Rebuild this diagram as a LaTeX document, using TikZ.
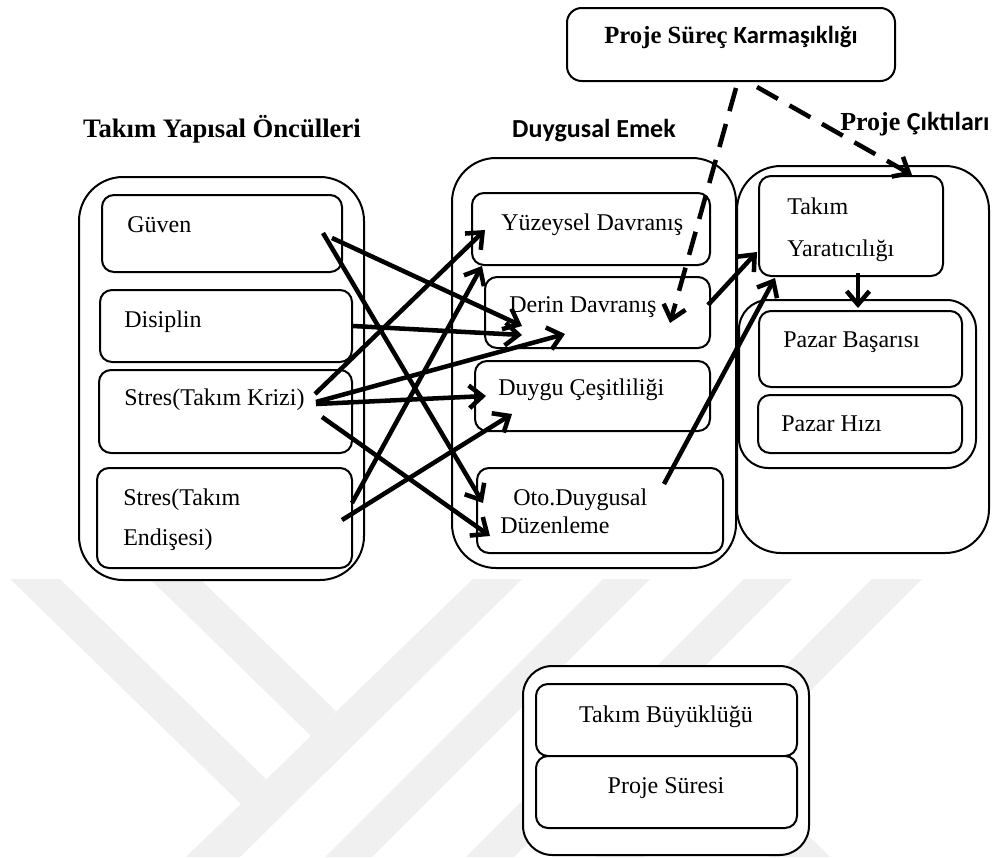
\documentclass[tikz,border=0pt]{standalone}
\usepackage{fontspec}
\setmainfont{Liberation Serif}
\newfontfamily\carlito{Carlito}
\usetikzlibrary{arrows.meta,fit}
\definecolor{wmgray}{RGB}{240,240,240}
\begin{document}
\begin{tikzpicture}[x=0.75pt,y=-0.75pt,
  box/.style={draw, line width=1.5pt, rounded corners=9pt, fill=white, inner sep=0pt},
  panel/.style={draw, line width=1.5pt, rounded corners=33pt, fill=white, inner sep=0pt},
  lbl/.style={inner sep=0pt, font=\fontsize{18}{21}\selectfont},
  ttl/.style={inner sep=0pt, font=\fontsize{20}{23}\selectfont\bfseries},
  link/.style={line width=3.4pt, -{Straight Barb[length=10pt,width=17pt]}},
  dlink/.style={link, dash pattern=on 18pt off 10pt},
]
\useasboundingbox (0,0) rectangle (992,857);

% background logo stripes
\fill[wmgray] (10,579) -- (60,579) -- (266,779) -- (241,804) -- cycle;
\fill[wmgray] (150,579) -- (200,579) -- (336,711) -- (311,736) -- cycle;
\fill[wmgray] (473,579) -- (522,579) -- (240,857) -- (186,857) -- cycle;
\fill[wmgray] (603,579) -- (650,579) -- (372,857) -- (325,857) -- cycle;
\fill[wmgray] (744,579) -- (792,579) -- (514,857) -- (466,857) -- cycle;
\fill[wmgray] (872,579) -- (922,579) -- (644,857) -- (596,857) -- cycle;
\fill[wmgray] (682,769) -- (712,739) -- (830,857) -- (770,857) -- cycle;

% group panels
\node[panel, fit={(79,177) (364,580)}] (onculler) {};
\node[panel, fit={(452,158) (736,568)}] (emek) {};
\node[panel, fit={(737,166) (989,553)}] (ciktilar) {};
\node[panel, rounded corners=22pt, fit={(739,300) (976,468)}] (pazar) {};
\node[panel, rounded corners=22pt, fit={(523,666) (809,855)}] (kontrol) {};

% boxes
\node[box, rounded corners=11pt, fit={(567,8) (895,81)}] (karmasiklik) {};
\node[box, fit={(102,195) (342,272)}] (guven) {};
\node[box, fit={(100,290) (352,362)}] (disiplin) {};
\node[box, fit={(99,370) (352,453)}] (kriz) {};
\node[box, fit={(97,468) (352,568)}] (endise) {};
\node[box, fit={(472,193) (710,265)}] (yuzeysel) {};
\node[box, fit={(485,277) (710,348)}] (derin) {};
\node[box, fit={(475,361) (710,431)}] (cesit) {};
\node[box, fit={(477,468) (723,553)}] (oto) {};
\node[box, fit={(759,176) (943,276)}] (yaratici) {};
\node[box, fit={(759,311) (962,387)}] (basari) {};
\node[box, fit={(758,395) (962,453)}] (hiz) {};
\node[box, fit={(536,684) (797,756)}] (buyukluk) {};
\node[box, fit={(536,756) (797,828)}] (sure) {};

% headings
\node[ttl, anchor=base] (hOnc) at (222,137) {Takım Yapısal Öncülleri};
\node[ttl, anchor=base, font=\fontsize{19.5}{23}\selectfont\bfseries\carlito] (hEmek) at (594,137) {Duygusal Emek};
\node[ttl, anchor=base west, font=\fontsize{19.5}{23}\selectfont\bfseries] (hCikti) at (840,130) {Proje {\carlito Çıktıları}};
\node[ttl, anchor=base, font=\fontsize{18.5}{22}\selectfont\bfseries] (tKarm) at (731,43) {Proje Süreç {\carlito Karmaşıklığı}};

% labels
\node[lbl, anchor=base west] (tGuven) at (127,232) {Güven};
\node[lbl, anchor=base west] (tDisiplin) at (124,327) {Disiplin};
\node[lbl, anchor=base west] (tKriz) at (124,405) {Stres(Takım Krizi)};
\node[lbl, anchor=base west] (tEnd1) at (123,505) {Stres(Takım};
\node[lbl, anchor=base west] (tEnd2) at (123,545) {Endişesi)};
\node[lbl, anchor=base west] (tYuz) at (501,230) {Yüzeysel Davranış};
\node[lbl, anchor=base west] (tDerin) at (509,312) {Derin Davranış};
\node[lbl, anchor=base west] (tCesit) at (498,395) {Duygu Çeşitliliği};
\node[lbl, anchor=base west] (tOto1) at (513,505) {Oto.Duygusal};
\node[lbl, anchor=base west] (tOto2) at (500,533) {Düzenleme};
\node[lbl, anchor=base west] (tYar1) at (787,214) {Takım};
\node[lbl, anchor=base west] (tYar2) at (787,256) {Yaratıcılığı};
\node[lbl, anchor=base west] (tBas) at (783,347) {Pazar Başarısı};
\node[lbl, anchor=base west] (tHiz) at (781,431) {Pazar Hızı};
\node[lbl, anchor=base] (tBuy) at (666,722) {Takım Büyüklüğü};
\node[lbl, anchor=base] (tSure) at (666,793) {Proje Süresi};

% connector end points
\coordinate (g1) at (332,238);  \coordinate (g2) at (323,233);
\coordinate (s1) at (353,326);
\coordinate (k1) at (315,394);  \coordinate (k2) at (316,402);
\coordinate (k3) at (316,404);  \coordinate (k4) at (322,417);
\coordinate (e1) at (352,503);  \coordinate (e2) at (342,520);
\coordinate (yIn) at (485,230);
\coordinate (dIn1) at (522,326); \coordinate (dIn2) at (522,335);
\coordinate (dIn3) at (565,334); \coordinate (dIn4) at (482,266);
\coordinate (cIn1) at (486,396); \coordinate (cIn2) at (512,414);
\coordinate (oIn1) at (483,503); \coordinate (oIn2) at (490,536);
\coordinate (dOut) at (708,305); \coordinate (oOut) at (664,484);
\coordinate (yrIn1) at (757,252); \coordinate (yrIn2) at (775,278);
\coordinate (yrOut) at (858,273); \coordinate (pzIn) at (858,308);
\coordinate (kmOut1) at (736,88); \coordinate (kmOut2) at (757,87);
\coordinate (kmIn1) at (670,323); \coordinate (kmIn2) at (912,175);

% structural antecedents -> emotional labour
\draw[link] (g1) -- (dIn1);
\draw[link] (g2) -- (oIn1);
\draw[link] (s1) -- (dIn2);
\draw[link] (k1) -- (yIn);
\draw[link] (k2) -- (dIn3);
\draw[link] (k3) -- (cIn1);
\draw[link] (k4) -- (oIn2);
\draw[link] (e1) -- (dIn4);
\draw[link] (e2) -- (cIn2);
% emotional labour -> outcomes
\draw[link] (dOut) -- (yrIn1);
\draw[link] (oOut) -- (yrIn2);
\draw[link] (yrOut) -- (pzIn);
% moderating process complexity
\draw[dlink] (kmOut1) -- (kmIn1);
\draw[dlink] (kmOut2) -- (kmIn2);
\end{tikzpicture}
\end{document}
